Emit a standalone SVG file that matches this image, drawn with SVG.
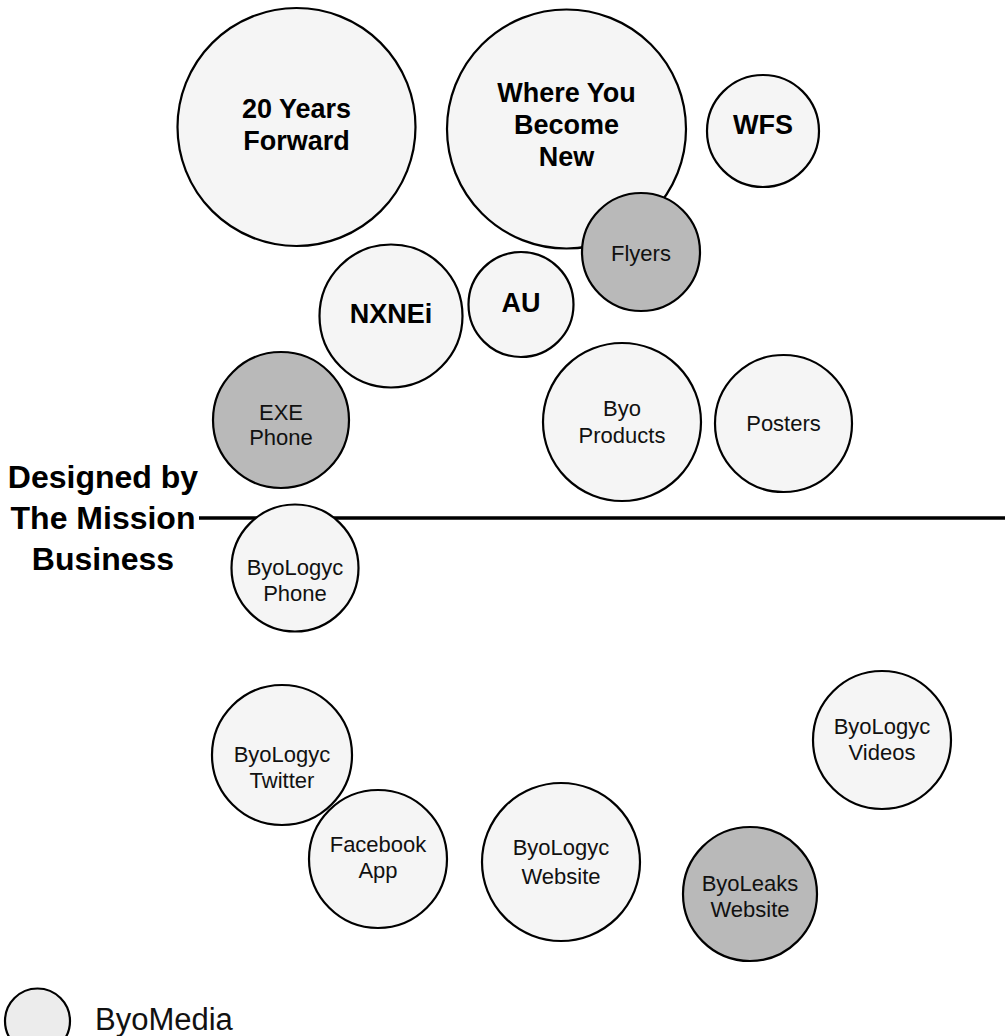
<svg xmlns="http://www.w3.org/2000/svg" width="1005" height="1036" viewBox="0 0 1005 1036">
<style>
  .n { fill: #f5f5f5; stroke: #000; stroke-width: 2.2; }
  .d { fill: #b9b9b9; stroke: #000; stroke-width: 2.2; }
  .t { font-family: "Liberation Sans", Arial, Helvetica, sans-serif; font-size: 22px; fill: #111; text-anchor: middle; }
  .b { font-family: "Liberation Sans", Arial, Helvetica, sans-serif; font-size: 27px; font-weight: bold; fill: #000; text-anchor: middle; }
  .h { font-family: "Liberation Sans", Arial, Helvetica, sans-serif; font-size: 32px; font-weight: bold; fill: #000; text-anchor: middle; }
</style>
<rect width="1005" height="1036" fill="#fff"/>
<g id="connectors">
  <line x1="199" y1="518" x2="1005" y2="518" stroke="#000" stroke-width="3.6"/>
</g>
<g id="label-designed">
  <text class="h" x="103" y="488">Designed by</text>
  <text class="h" x="103" y="529">The Mission</text>
  <text class="h" x="103" y="570">Business</text>
</g>
<g id="node-20years">
  <circle class="n" cx="296.5" cy="127" r="119"/>
  <text class="b" x="296.5" y="118">20 Years</text>
  <text class="b" x="296.5" y="150">Forward</text>
</g>
<g id="node-whereyou">
  <circle class="n" cx="566.5" cy="129" r="119.5"/>
  <text class="b" x="566.5" y="102">Where You</text>
  <text class="b" x="566.5" y="134">Become</text>
  <text class="b" x="566.5" y="166">New</text>
</g>
<g id="node-wfs">
  <circle class="n" cx="763" cy="131" r="56"/>
  <text class="b" x="763" y="134">WFS</text>
</g>
<g id="node-flyers">
  <circle class="d" cx="641" cy="252" r="59"/>
  <text class="t" x="641" y="261">Flyers</text>
</g>
<g id="node-nxnei">
  <circle class="n" cx="391" cy="316" r="71.5"/>
  <text class="b" x="391" y="323">NXNEi</text>
</g>
<g id="node-au">
  <circle class="n" cx="521" cy="304.5" r="52.5"/>
  <text class="b" x="521" y="312">AU</text>
</g>
<g id="node-exephone">
  <circle class="d" cx="281" cy="420" r="68"/>
  <text class="t" x="281" y="420">EXE</text>
  <text class="t" x="281" y="445">Phone</text>
</g>
<g id="node-byoproducts">
  <circle class="n" cx="622" cy="422" r="79"/>
  <text class="t" x="622" y="416">Byo</text>
  <text class="t" x="622" y="443">Products</text>
</g>
<g id="node-posters">
  <circle class="n" cx="783.5" cy="423.5" r="68.5"/>
  <text class="t" x="783.5" y="431">Posters</text>
</g>
<g id="node-byologycphone">
  <circle class="n" cx="295" cy="568" r="63.5"/>
  <text class="t" x="295" y="575">ByoLogyc</text>
  <text class="t" x="295" y="601">Phone</text>
</g>
<g id="node-byologyctwitter">
  <circle class="n" cx="282" cy="755" r="70"/>
  <text class="t" x="282" y="762">ByoLogyc</text>
  <text class="t" x="282" y="788">Twitter</text>
</g>
<g id="node-facebookapp">
  <circle class="n" cx="378" cy="859" r="69"/>
  <text class="t" x="378" y="852">Facebook</text>
  <text class="t" x="378" y="878">App</text>
</g>
<g id="node-byologycwebsite">
  <circle class="n" cx="561" cy="862" r="79"/>
  <text class="t" x="561" y="855">ByoLogyc</text>
  <text class="t" x="561" y="884">Website</text>
</g>
<g id="node-byoleakswebsite">
  <circle class="d" cx="750" cy="894" r="67"/>
  <text class="t" x="750" y="891">ByoLeaks</text>
  <text class="t" x="750" y="917">Website</text>
</g>
<g id="node-byologycvideos">
  <circle class="n" cx="882" cy="740" r="69"/>
  <text class="t" x="882" y="734">ByoLogyc</text>
  <text class="t" x="882" y="760">Videos</text>
</g>
<g id="legend">
  <circle cx="37.5" cy="1021" r="32.5" fill="#ececec" stroke="#000" stroke-width="2.2"/>
  <text x="95" y="1030" font-family="Liberation Sans, Arial, sans-serif" font-size="31" fill="#111">ByoMedia</text>
</g>
</svg>
